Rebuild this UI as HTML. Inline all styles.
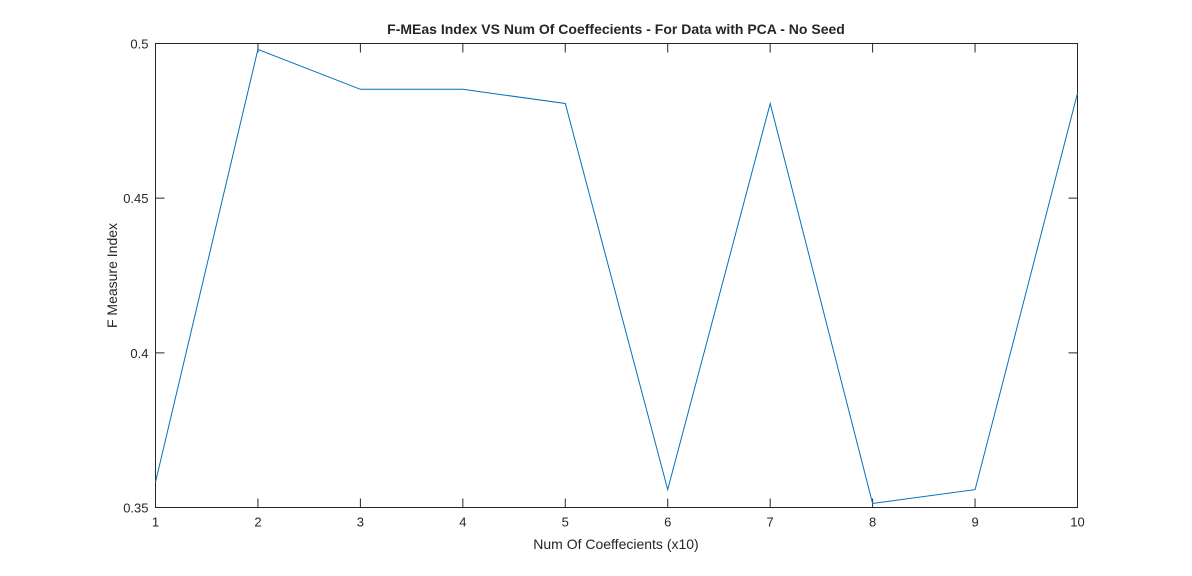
<!DOCTYPE html>
<html><head><meta charset="utf-8"><style>
body{margin:0;background:#fff;}
svg text{font-family:"Liberation Sans",Arial,sans-serif;fill:#262626;}
</style></head><body>
<svg width="1192" height="571" viewBox="0 0 1192 571" xmlns="http://www.w3.org/2000/svg">
<rect width="1192" height="571" fill="#fff"/>
<g id="plot"></g>
</svg>
<script>
const xValues=[1,2,3,4,5,6,7,8,9,10];
const fMeasure=[0.3582,0.4981,0.4852,0.4852,0.4806,0.3558,0.4806,0.3513,0.3558,0.4839];
const xTicks=[1,2,3,4,5,6,7,8,9,10];
const yTicks=[0.35,0.4,0.45,0.5];
const yTickLabels=["0.35","0.4","0.45","0.5"];
const L=155.5,R=1077.5,T=43.5,B=507.5;
const sx=v=>L+(v-1)/9*(R-L);
const sy=v=>B-(v-0.35)/0.15*(B-T);
const g=document.getElementById('plot');
const NS='http://www.w3.org/2000/svg';
function mk(t,a,txt){const e=document.createElementNS(NS,t);for(const k in a)e.setAttribute(k,a[k]);if(txt!==undefined)e.textContent=txt;g.appendChild(e);return e;}
let e=mk('rect',{x:L,y:T,width:R-L,height:B-T,fill:'none',stroke:'#262626','stroke-width':1});


xTicks.forEach(v=>{const x=sx(v);
 let t=mk('path',{d:`M${x},${B}v-9M${x},${T}v9`,stroke:'#262626','stroke-width':1});
 
 
 let l=mk('text',{x:x,y:B+19,'font-size':13,'text-anchor':'middle'},String(v));
 
 
});
yTicks.forEach((v,i)=>{const y=sy(v);
 let t=mk('path',{d:`M${L},${y}h9M${R},${y}h-9`,stroke:'#262626','stroke-width':1});
 
 
 let l=mk('text',{x:L-7,y:y+5,'font-size':13,'text-anchor':'end'},yTickLabels[i]);
 
 
});
const pts=xValues.map((x,i)=>sx(x).toFixed(1)+','+sy(fMeasure[i]).toFixed(1)).join(' ');
let line=mk('polyline',{points:pts,fill:'none',stroke:'#0072bd','stroke-width':1});


let tt=mk('text',{x:616,y:34,'font-size':14,'font-weight':'bold','text-anchor':'middle'},'F-MEas Index VS Num Of Coeffecients - For Data with PCA - No Seed');


let xl=mk('text',{x:616,y:549,'font-size':14,'text-anchor':'middle'},'Num Of Coeffecients (x10)');


let yl=mk('text',{x:0,y:0,'font-size':14,'text-anchor':'middle',transform:`translate(117,${(T+B)/2}) rotate(-90)`},'F Measure Index');


</script>
</body></html>
